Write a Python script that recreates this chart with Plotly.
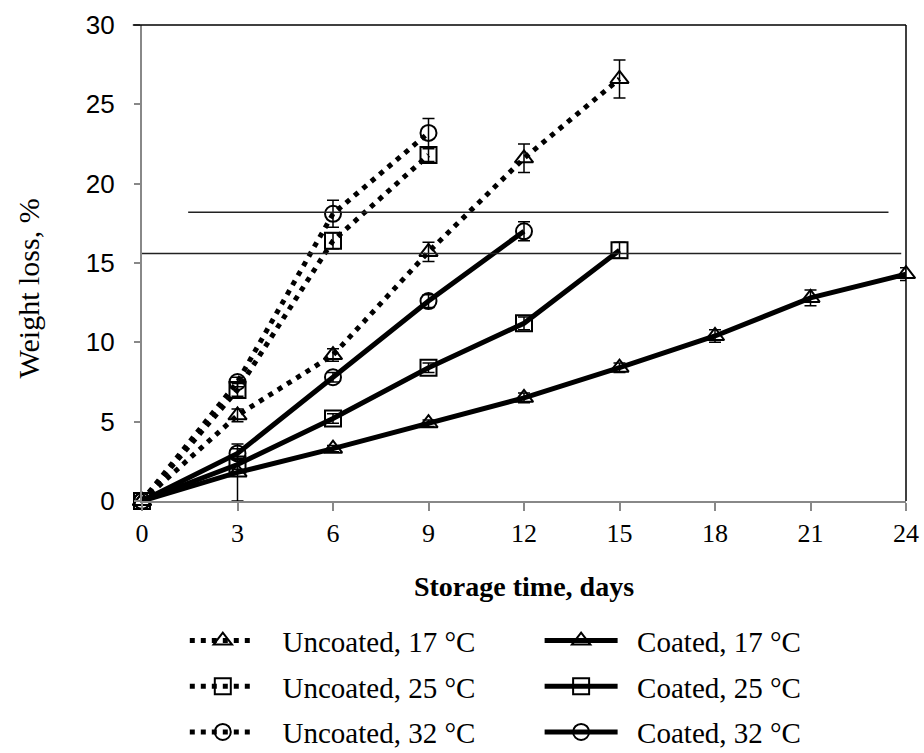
import plotly.graph_objects as go

# ---- data ----
days_unc17 = [0, 3, 6, 9, 12, 15]
unc17 = [0, 5.4, 9.2, 15.7, 21.6, 26.6]
unc17_err = [0, 0.4, 0.4, 0.6, 0.9, 1.2]

days_unc25 = [0, 3, 6, 9]
unc25 = [0, 7.0, 16.4, 21.8]
unc25_err = [0, 0.4, 0.5, 0.4]

days_unc32 = [0, 3, 6, 9]
unc32 = [0, 7.5, 18.1, 23.2]
unc32_err = [0, 0.3, 0.85, 0.9]

days_c17 = [0, 3, 6, 9, 12, 15, 18, 21, 24]
c17 = [0, 1.8, 3.3, 4.9, 6.5, 8.4, 10.4, 12.8, 14.3]
c17_err = [0, 1.8, 0.2, 0.2, 0.3, 0.3, 0.4, 0.5, 0.4]

days_c25 = [0, 3, 6, 9, 12, 15]
c25 = [0, 2.3, 5.2, 8.4, 11.2, 15.8]
c25_err = [0, 0.3, 0.3, 0.3, 0.4, 0.5]

days_c32 = [0, 3, 6, 9, 12]
c32 = [0, 3.0, 7.8, 12.6, 17.0]
c32_err = [0, 0.3, 0.3, 0.4, 0.6]

x_ticks = [0, 3, 6, 9, 12, 15, 18, 21, 24]
y_ticks = [0, 5, 10, 15, 20, 25, 30]

ref_levels = [18.2, 15.6]
ref_x_start = [1.45, -0.15]
ref_x_end = [23.45, 23.85]

SERIF = "Liberation Serif, Times New Roman, serif"
SANS = "Liberation Sans, Arial, sans-serif"
NB = "\u00a0"

fig = go.Figure()

def add(xs, ys, err, name, symbol, dotted, legend, pad):
    fig.add_trace(go.Scatter(
        x=xs, y=ys, name=NB * pad + name, mode="lines+markers",
        legend=legend, legendgroup=name,
        line=dict(color="black", width=5, dash="5px,6px" if dotted else "solid"),
        marker=dict(symbol=symbol, size=16, color="black",
                    line=dict(color="black", width=2)),
        error_y=dict(type="data", array=err, visible=True, color="black",
                     thickness=1.5, width=6),
        cliponaxis=False,
    ))

add(days_unc17, unc17, unc17_err, "Uncoated, 17 °C", "triangle-up-open", True, "legend", 3)
add(days_unc25, unc25, unc25_err, "Uncoated, 25 °C", "square-open", True, "legend", 3)
add(days_unc32, unc32, unc32_err, "Uncoated, 32 °C", "circle-open", True, "legend", 3)
add(days_c17, c17, c17_err, "Coated, 17 °C", "triangle-up-open", False, "legend2", 2)
add(days_c25, c25, c25_err, "Coated, 25 °C", "square-open", False, "legend2", 2)
add(days_c32, c32, c32_err, "Coated, 32 °C", "circle-open", False, "legend2", 2)

for lv, xs, xe in zip(ref_levels, ref_x_start, ref_x_end):
    fig.add_shape(type="line", xref="x", yref="y", x0=xs, x1=xe, y0=lv, y1=lv,
                  line=dict(color="#222", width=1.3), layer="above")

# top and right borders
fig.add_shape(type="line", xref="paper", yref="paper", x0=-0.012, x1=1, y0=1, y1=1,
              line=dict(color="black", width=1.5))
fig.add_shape(type="line", xref="paper", yref="paper", x0=1, x1=1, y0=0, y1=1,
              line=dict(color="black", width=1.5))

# y-axis title
fig.add_annotation(
    text="Weight loss, %", textangle=-90,
    xref="paper", yref="paper", x=-0.149, y=0.447,
    xanchor="center", yanchor="middle", showarrow=False,
    font=dict(family=SERIF, size=30, color="black"),
)

fig.update_layout(
    width=924, height=753,
    margin=dict(l=142, r=18, t=25, b=252, autoexpand=False),
    plot_bgcolor="white", paper_bgcolor="white",
    showlegend=True,
    xaxis=dict(
        range=[0, 24], tickvals=x_ticks, ticktext=[str(v) for v in x_ticks],
        showgrid=False, zeroline=False, showline=True, linecolor="#888", linewidth=1.5,
        ticks="outside", ticklen=8, tickcolor="#888", tickwidth=1.5,
        tickfont=dict(family=SERIF, size=26, color="black"),
        title=dict(text="<b>Storage time, days</b>", standoff=29,
                   font=dict(family=SERIF, size=28, color="black")),
    ),
    yaxis=dict(
        range=[0, 30], tickvals=y_ticks, ticktext=[str(v) + NB * 2 for v in y_ticks],
        showgrid=False, zeroline=False, showline=True, linecolor="#888", linewidth=1.5,
        ticks="outside", ticklen=6, tickcolor="#888", tickwidth=1.5,
        tickfont=dict(family=SANS, size=26, color="black"),
    ),
    legend=dict(
        xref="container", yref="container",
        x=0.2, y=0.183, xanchor="left", yanchor="top",
        font=dict(family=SERIF, size=29, color="black"),
        tracegroupgap=5, itemwidth=66, bgcolor="rgba(0,0,0,0)",
    ),
    legend2=dict(
        xref="container", yref="container",
        x=0.584, y=0.183, xanchor="left", yanchor="top",
        font=dict(family=SERIF, size=29, color="black"),
        tracegroupgap=5, itemwidth=73, bgcolor="rgba(0,0,0,0)",
    ),
)

fig.write_html(
    "out.html",
    config={"displayModeBar": False},
    post_script="document.body.style.margin='0px';document.body.style.overflow='hidden';",
)
